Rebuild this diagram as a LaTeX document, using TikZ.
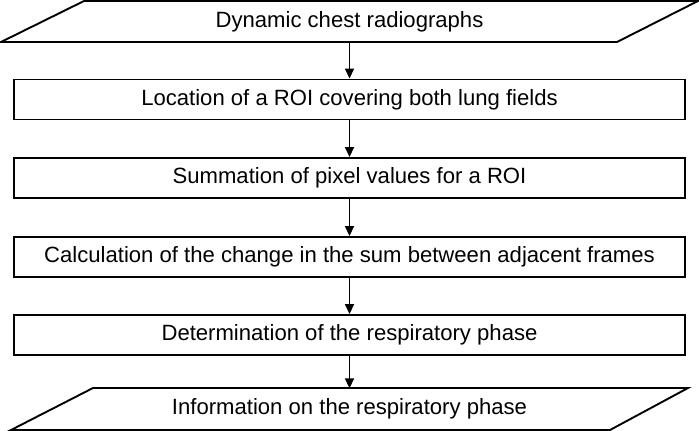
\documentclass[tikz,border=0pt]{standalone}
\usepackage{fontspec}
\setmainfont{Liberation Sans}
\usetikzlibrary{arrows.meta}
\begin{document}
\begin{tikzpicture}[x=1pt,y=-1pt,
  txt/.style={font=\fontsize{22.1}{26}\selectfont},
  procbox/.style={draw,line width=1.9pt,minimum width=671pt,minimum height=40pt,inner sep=0pt,txt},
  iobox/.style={minimum width=600pt,minimum height=41pt,inner sep=0pt,txt},
  para/.style={draw,line width=1.9pt,line join=miter},
  flow/.style={line width=1.7pt,-{Triangle[length=10pt,width=9pt]}}]
\useasboundingbox (0,0) rectangle (699,431);
\draw[para] (1,42) -- (84,1) -- (698,1) -- (617,42) -- cycle;
\draw[para] (11,430) -- (93,388) -- (688,388) -- (610,430) -- cycle;
\node[iobox] (in) at (349.5,21.5) {Dynamic chest radiographs};
\node[procbox] (b1) at (349.5,99.5) {Location of a ROI covering both lung fields};
\node[procbox] (b2) at (349.5,178) {Summation of pixel values for a ROI};
\node[procbox] (b3) at (349.5,257) {Calculation of the change in the sum between adjacent frames};
\node[procbox] (b4) at (349.5,335) {Determination of the respiratory phase};
\node[iobox] (out) at (349.5,409) {Information on the respiratory phase};
\draw[flow] (in.south) -- (b1.north);
\draw[flow] (b1.south) -- (b2.north);
\draw[flow] (b2.south) -- (b3.north);
\draw[flow] (b3.south) -- (b4.north);
\draw[flow] (b4.south) -- (out.north);
\end{tikzpicture}
\end{document}
